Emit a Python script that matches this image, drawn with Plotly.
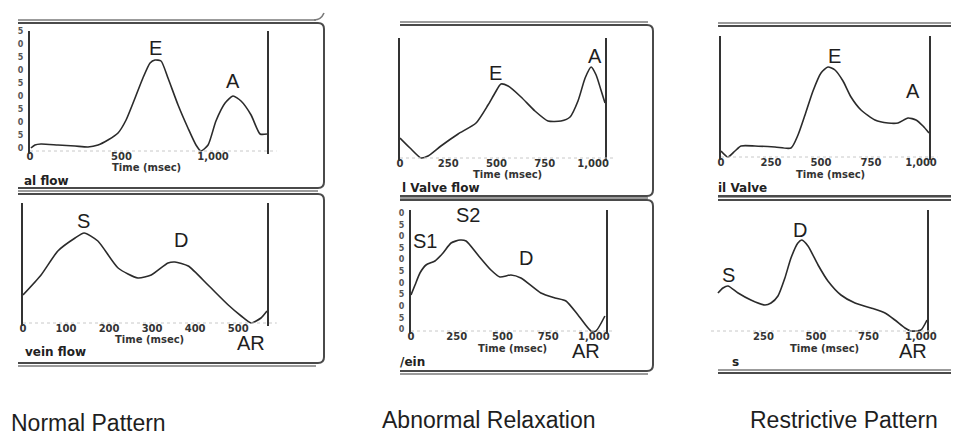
import plotly.graph_objects as go

W, H = 959, 435

# ---------------- data (time in msec, velocity in arbitrary units) ----------------
normal_mitral_t = [5, 27, 60, 153, 246, 317, 372, 426, 481, 525, 574, 617, 656, 683, 716, 754, 809, 863,
                   907, 934, 973, 1016, 1066, 1109, 1153, 1208, 1257, 1295]
normal_mitral_v = [3, 6, 7, 6, 5, 4, 6, 11, 18, 31, 53, 73, 88, 91, 90, 73, 46, 23,
                   6, 0, 6, 30, 48, 55, 50, 36, 17, 17]

normal_pv_t = [0, 42, 81, 121, 142, 174, 221, 267, 298, 337, 353, 384, 430, 477, 507, 530, 553, 567]
normal_pv_v = [28, 48, 72, 85, 90, 82, 55, 45, 48, 60, 61, 57, 38, 18, 7, 0, 5, 12]

abn_mitral_t = [0, 52, 109, 145, 212, 301, 394, 456, 492, 523, 560, 627, 699, 767, 834, 881, 922,
                959, 990, 1016, 1041, 1062]
abn_mitral_v = [20, 10, 0, 2, 12, 24, 35, 53, 65, 74, 72, 61, 47, 37, 37, 41, 57, 80, 91, 83, 68, 55]

abn_pv_t = [0, 22, 49, 82, 131, 175, 219, 268, 301, 366, 437, 486, 546, 601, 710, 787, 847, 913,
            984, 1011, 1060]
abn_pv_v = [36, 46, 58, 66, 70, 78, 88, 91, 90, 76, 61, 54, 56, 53, 38, 33, 30, 16, 0, 0, 15]

rest_mitral_t = [0, 35, 70, 100, 170, 270, 350, 385, 420, 460, 500, 535, 570, 610, 650, 700, 770,
                 835, 885, 935, 975, 1010, 1040]
rest_mitral_v = [6, 0, 6, 11, 11, 10, 9, 22, 42, 66, 84, 90, 87, 76, 60, 47, 37, 34, 34, 39, 37, 31, 24]

rest_pv_t = [33, 57, 81, 129, 190, 257, 286, 319, 352, 381, 414, 433, 462, 510, 557, 619, 686, 762,
             829, 876, 924, 952, 1000, 1029]
rest_pv_v = [38, 43, 45, 38, 31, 26, 28, 35, 53, 73, 88, 91, 85, 66, 50, 36, 28, 23, 18, 11, 3, 0, 1, 11]

# tick labels
ticks_normal_mitral = [0, 500, 1000]
ticktext_normal_mitral = ["0", "500", "1,000"]
ticks_normal_pv = [0, 100, 200, 300, 400, 500]
ticktext_normal_pv = ["0", "100", "200", "300", "400", "500"]
ticks_1000 = [0, 250, 500, 750, 1000]
ticktext_1000 = ["0", "250", "500", "750", "1,000"]
ticks_rest_pv = [250, 500, 750, 1000]
ticktext_rest_pv = ["250", "500", "750", "1,000"]

# peak labels: (text, time, velocity); negative velocity = label below the baseline
labels_normal_mitral = [("E", 683, 103), ("A", 1109, 70)]
labels_normal_pv = [("S", 140, 102), ("D", 367, 83), ("AR", 530, -20)]
labels_abn_mitral = [("E", 497, 85), ("A", 1010, 102)]
labels_abn_pv = [("S1", 77, 90), ("S2", 311, 116), ("D", 628, 73), ("AR", 956, -20)]
labels_rest_mitral = [("E", 565, 101), ("A", 960, 66)]
labels_rest_pv = [("S", 81, 56), ("D", 424, 101), ("AR", 962, -20)]

pattern_titles = ["Normal Pattern", "Abnormal Relaxation", "Restrictive Pattern"]

# ---------------- layout geometry (pixels) ----------------
panels = [
    dict(t=normal_mitral_t, v=normal_mitral_v, px=(22, 259), base=143, top=23, xr=(0, 1295),
         tv=ticks_normal_mitral, tt=ticktext_normal_mitral, labels=labels_normal_mitral,
         left=True, time_xy=(138, 159), sub=("al flow", 14, 173),
         ytv=[3, 16, 29, 42, 55, 68, 81, 94, 107, 120]),
    dict(t=normal_pv_t, v=normal_pv_v, px=(15, 259), base=315, top=195, xr=(0, 567),
         tv=ticks_normal_pv, tt=ticktext_normal_pv, labels=labels_normal_pv,
         left=True, time_xy=(141, 331), sub=("vein flow", 15, 344), ytv=None),
    dict(t=abn_mitral_t, v=abn_mitral_v, px=(392, 597), base=150, top=30, xr=(0, 1062),
         tv=ticks_1000, tt=ticktext_1000, labels=labels_abn_mitral,
         left=True, time_xy=(499, 167), sub=("l Valve flow", 392, 180), ytv=None),
    dict(t=abn_pv_t, v=abn_pv_v, px=(403, 598), base=323, top=202, xr=(0, 1066),
         tv=ticks_1000, tt=ticktext_1000, labels=labels_abn_pv,
         left=True, time_xy=(504, 340), sub=("/ein", 390, 354),
         ytv=[2, 13, 25, 37, 48, 60, 72, 83, 95, 106, 118]),
    dict(t=rest_mitral_t, v=rest_mitral_v, px=(713, 921), base=149, top=28, xr=(0, 1040),
         tv=ticks_1000, tt=ticktext_1000, labels=labels_rest_mitral,
         left=True, time_xy=(822, 166), sub=("il Valve", 708, 180), ytv=None),
    dict(t=rest_pv_t, v=rest_pv_v, px=(703, 919), base=323, top=202, xr=(0, 1029),
         tv=ticks_rest_pv, tt=ticktext_rest_pv, labels=labels_rest_pv,
         left=False, time_xy=(816, 340), sub=("s", 722, 354), ytv=None),
]

PAD = 3  # allow curve to touch baseline without clipping

def fx(p):
    return p / W

def fy(p):
    return 1 - p / H

fig = go.Figure()
annotations = []
shapes = []
tick_font = dict(family="DejaVu Sans", size=10, color="#333", weight="bold")
peak_font = dict(family="Liberation Sans, Arial", size=20, color="#1e1e1e")
small_font = dict(family="DejaVu Sans", size=10, color="#333", weight="bold")

for i, p in enumerate(panels, start=1):
    sx = "" if i == 1 else str(i)
    xa, ya = "x" + sx, "y" + sx
    fig.add_trace(go.Scatter(x=p["t"], y=p["v"], mode="lines", xaxis=xa, yaxis=ya,
                             line=dict(color="#2b2b2b", width=1.6, shape="spline", smoothing=0.6),
                             hoverinfo="skip", showlegend=False))
    height = p["base"] - p["top"]
    fig.layout["xaxis" + sx] = dict(
        domain=[fx(p["px"][0]), fx(p["px"][1])], range=list(p["xr"]), anchor=ya,
        tickvals=p["tv"], ticktext=p["tt"], tickfont=tick_font, ticks="", automargin=False,
        ticklabelstandoff=-5,
        showline=False, showgrid=False, zeroline=False, fixedrange=True)
    ydict = dict(
        domain=[fy(p["base"] + PAD), fy(p["top"])], range=[-PAD, height], anchor=xa,
        showline=True, linecolor="#333", linewidth=2, showgrid=False, zeroline=False,
        ticks="", fixedrange=True, automargin=False)
    if p["left"]:
        ydict["mirror"] = True
    else:
        ydict["side"] = "right"
    if p["ytv"]:
        ydict["tickvals"] = p["ytv"]
        ydict["ticktext"] = ["0" if k % 2 == 0 else "5" for k in range(len(p["ytv"]))]
        ydict["tickfont"] = dict(family="DejaVu Sans", size=8, color="#555", weight="bold")
        ydict["showticklabels"] = True
        ydict["ticklabelstandoff"] = 3
    else:
        ydict["showticklabels"] = False
    fig.layout["yaxis" + sx] = ydict

    # faint dotted baseline
    shapes.append(dict(type="line", xref=xa + " domain", yref=ya, x0=0, x1=1.04, y0=0, y1=0,
                       line=dict(color="#c8c8c8", width=1, dash="dot")))
    for txt, tx, ty in p["labels"]:
        # labels below the baseline are anchored at 0 and shifted down (1 unit = 1 px here)
        annotations.append(dict(text=txt, x=tx, y=max(ty, 0), yshift=min(ty, 0),
                                xref=xa, yref=ya, showarrow=False,
                                xanchor="center", yanchor="middle", font=peak_font))
    annotations.append(dict(text="Time (msec)", x=fx(p["time_xy"][0]), y=fy(p["time_xy"][1]),
                            xref="paper", yref="paper", showarrow=False,
                            xanchor="center", yanchor="middle", font=small_font))
    s_txt, s_x, s_y = p["sub"]
    annotations.append(dict(text=s_txt, x=fx(s_x), y=fy(s_y), xref="paper", yref="paper",
                            xanchor="left", yanchor="middle", showarrow=False,
                            font=dict(family="DejaVu Sans", size=12, color="#222", weight="bold")))

# pattern titles
for txt, cx, cy in zip(pattern_titles, [80, 481, 836], [415, 412, 412]):
    annotations.append(dict(text=txt, x=fx(cx), y=fy(cy), xref="paper", yref="paper",
                            xanchor="center", yanchor="middle", showarrow=False,
                            font=dict(family="Liberation Sans, Arial", size=23, color="#1e1e1e")))

# ---------------- scanned report frames ----------------
def frame_path(x0, x1, y0, y1, r=6):
    return (f"M {fx(x0)},{fy(y0)} L {fx(x1 - r)},{fy(y0)} Q {fx(x1)},{fy(y0)} {fx(x1)},{fy(y0 + r)} "
            f"L {fx(x1)},{fy(y1 - r)} Q {fx(x1)},{fy(y1)} {fx(x1 - r)},{fy(y1)} L {fx(x0)},{fy(y1)}")

frame_line = dict(color="#4a4a4a", width=2)
thin_line = dict(color="#7a7a7a", width=1.6)
for (x0, x1, y0, y1) in [(10, 316, 15, 180), (10, 316, 186, 355), (392, 645, 17, 188), (392, 645, 192, 363)]:
    shapes.append(dict(type="path", xref="paper", yref="paper", path=frame_path(x0, x1, y0, y1),
                       line=frame_line))
for (x0, x1, y) in [(10, 308, 12), (10, 310, 183), (10, 308, 358), (392, 640, 14), (392, 640, 190),
                    (392, 640, 366), (710, 959, 15), (710, 959, 189), (710, 959, 362)]:
    shapes.append(dict(type="line", xref="paper", yref="paper", x0=fx(x0), x1=fx(x1), y0=fy(y), y1=fy(y),
                       line=thin_line))
for (x0, x1, y) in [(710, 959, 18), (710, 959, 188), (710, 959, 192), (710, 959, 365)]:
    shapes.append(dict(type="line", xref="paper", yref="paper", x0=fx(x0), x1=fx(x1), y0=fy(y), y1=fy(y),
                       line=frame_line))
# small hook of the frame above
shapes.append(dict(type="path", xref="paper", yref="paper",
                   path=f"M {fx(306)},{fy(12)} Q {fx(313)},{fy(12)} {fx(316)},{fy(5)}", line=thin_line))

fig.update_layout(width=W, height=H, margin=dict(l=0, r=0, t=0, b=0, autoexpand=False),
                  paper_bgcolor="white", plot_bgcolor="white", showlegend=False,
                  annotations=annotations, shapes=shapes)

fig.write_html("out.html")
